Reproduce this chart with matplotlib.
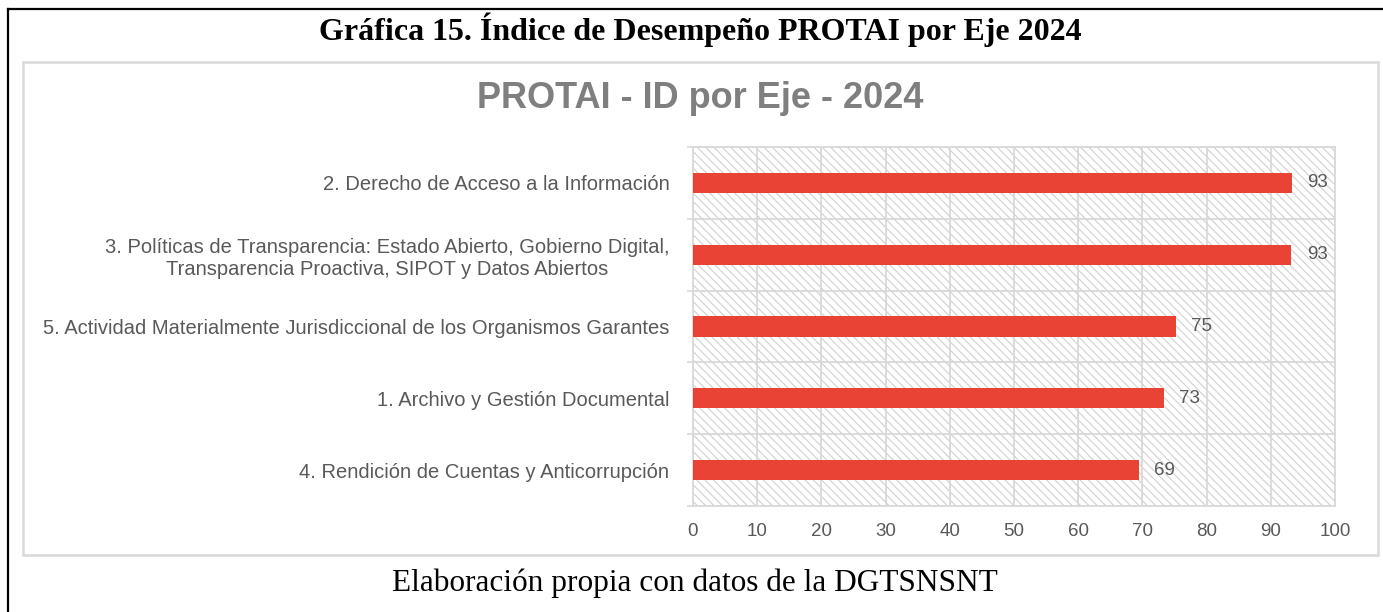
import matplotlib.pyplot as plt
from matplotlib.patches import Rectangle
from matplotlib.lines import Line2D
import numpy as np

# datos (de arriba hacia abajo)
ejes = ["2. Derecho de Acceso a la Información",
        "3. Políticas de Transparencia: Estado Abierto, Gobierno Digital,\nTransparencia Proactiva, SIPOT y Datos Abiertos",
        "5. Actividad Materialmente Jurisdiccional de los Organismos Garantes",
        "1. Archivo y Gestión Documental",
        "4. Rendición de Cuentas y Anticorrupción"]
valores = [93.3, 93.2, 75.2, 73.3, 69.4]
etiquetas = ["93", "93", "75", "73", "69"]
xticks = [0, 10, 20, 30, 40, 50, 60, 70, 80, 90, 100]

plt.rcParams['font.family'] = ['Liberation Sans', 'DejaVu Sans']
plt.rcParams['hatch.linewidth'] = 0.8
plt.rcParams['hatch.color'] = '#d0d0d0'

W, H = 1383, 612
fig = plt.figure(figsize=(W / 100, H / 100), dpi=100)

# marco negro exterior (solo arriba e izquierda visibles)
fig.add_artist(Line2D([8 / W, 1.0], [1 - 9 / H, 1 - 9 / H], transform=fig.transFigure, color='black', lw=1.6))
fig.add_artist(Line2D([8 / W, 8 / W], [0, 1 - 9 / H], transform=fig.transFigure, color='black', lw=1.6))

# marco gris del grafico
fig.add_artist(Rectangle((23 / W, 1 - 555 / H), (1378 - 23) / W, (555 - 62) / H,
                         transform=fig.transFigure, fill=False, edgecolor='#d9d9d9', lw=1.8))

fig.text(700 / W, 1 - 30 / H, "Gráfica 15. Índice de Desempeño PROTAI por Eje 2024",
         family='Liberation Serif', weight='bold', fontsize=23, ha='center', va='center')
fig.text(695 / W, 1 - 583 / H, "Elaboración propia con datos de la DGTSNSNT",
         family='Liberation Serif', fontsize=22.5, ha='center', va='center')
fig.text(700 / W, 1 - 99 / H, "PROTAI - ID por Eje - 2024", weight='bold', fontsize=26,
         color='#7f7f7f', ha='center', va='center')

ax = fig.add_axes([693 / W, 1 - 506 / H, (1335 - 693) / W, (506 - 147) / H])
ax.add_patch(Rectangle((0, 0), 1, 1, transform=ax.transAxes, facecolor='white',
                       edgecolor='#d0d0d0', hatch='\\\\\\\\', lw=0, zorder=0))

y = np.arange(len(ejes))
ax.barh(y, valores, height=0.28, color='#e94335', zorder=3)
for yi, v, t in zip(y, valores, etiquetas):
    ax.text(v + 2.4, yi, t, va='center', ha='left', fontsize=13.5, color='#595959', zorder=4)

ax.set_xlim(0, 100)
ax.set_ylim(len(ejes) - 0.5, -0.5)
ax.set_xticks(xticks)
ax.set_yticks(y)
ax.set_yticklabels(ejes, multialignment='center', fontsize=14.5, color='#595959')
ax.set_yticks(np.arange(-0.5, len(ejes), 1), minor=True)
ax.tick_params(axis='y', which='major', length=0, pad=17)
ax.tick_params(axis='y', which='minor', length=4, color='#d9d9d9', width=1.2)
ax.tick_params(axis='x', length=0, pad=12, labelsize=13.5, labelcolor='#595959')
ax.grid(axis='x', color='#d9d9d9', lw=1.3, zorder=1)
ax.grid(axis='y', which='minor', color='#d9d9d9', lw=1.3, zorder=1)
for s in ax.spines.values():
    s.set_color('#d9d9d9')
    s.set_linewidth(1.3)
ax.set_axisbelow(True)

fig.savefig('out.png', dpi=100)
